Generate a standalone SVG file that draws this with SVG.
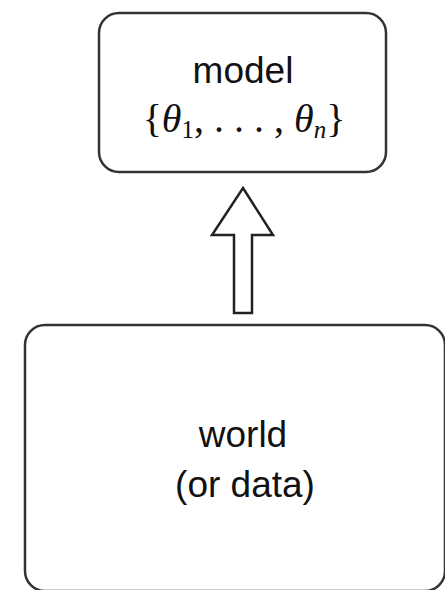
<svg xmlns="http://www.w3.org/2000/svg" width="445" height="590" viewBox="0 0 445 590">
<style>
.box{fill:#fff;stroke:#333;stroke-width:2.5}
.lbl{font-family:"Liberation Sans",Arial,sans-serif;font-size:37px;fill:#111;text-anchor:middle}
.math{font-family:"Liberation Serif","Times New Roman",serif;font-size:40px;fill:#111;text-anchor:middle}
.conn{fill:#fff;stroke:#222;stroke-width:2.5;stroke-linejoin:miter}
</style>
<rect width="445" height="590" fill="#fff"/>
<g id="model">
<rect class="box" x="99" y="13" width="287" height="159" rx="20"/>
<text class="lbl" x="243" y="83">model</text>
<text class="math" x="244" y="132">{<tspan font-style="italic">θ</tspan><tspan font-size="25" dy="6">1</tspan><tspan dy="-6">, . . . , </tspan><tspan font-style="italic">θ</tspan><tspan font-size="25" font-style="italic" dy="6">n</tspan><tspan dy="-6">}</tspan></text>
</g>
<g id="world">
<rect class="box" x="25" y="325" width="420" height="266" rx="20"/>
<text class="lbl" x="243" y="447">world</text>
<text class="lbl" x="245" y="497">(or data)</text>
</g>
<g id="connectors">
<polygon class="conn" points="243,188 273,235 252,235 252,313 234,313 234,235 212,235"/>
</g>
</svg>
